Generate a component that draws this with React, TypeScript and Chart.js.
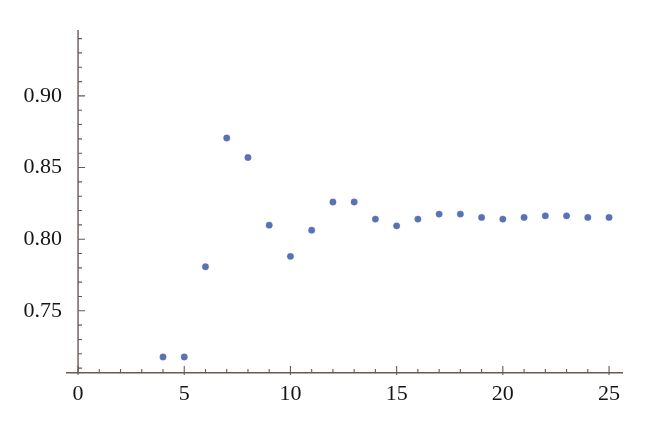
import React, { useEffect, useRef } from "react";
import { Chart, registerables } from "chart.js";

Chart.register(...registerables);

const xValues = [4, 5, 6, 7, 8, 9, 10, 11, 12, 13, 14, 15, 16, 17, 18, 19, 20, 21, 22, 23, 24, 25];
const yValues = [
  0.7178, 0.7178, 0.7808, 0.8706, 0.857, 0.8098, 0.788, 0.8063, 0.8259, 0.826, 0.814,
  0.8093, 0.814, 0.8175, 0.8175, 0.8152, 0.814, 0.8152, 0.8163, 0.8163, 0.8152, 0.8152,
];
const xTickLabels = [0, 5, 10, 15, 20, 25];
const yTickLabels = [0.75, 0.8, 0.85, 0.9];
const xMinorTicks = [1, 2, 3, 4, 6, 7, 8, 9, 11, 12, 13, 14, 16, 17, 18, 19, 21, 22, 23, 24];
const yMinorTicks = [
  0.71, 0.72, 0.73, 0.74, 0.76, 0.77, 0.78, 0.79, 0.81, 0.82, 0.83, 0.84, 0.86, 0.87, 0.88,
  0.89, 0.91, 0.92, 0.93, 0.94,
];

const AXIS_COLOR = "#665a55";
const FONT = "'Liberation Serif', 'DejaVu Serif', serif";

const axisPlugin = {
  id: "mathAxes",
  afterDraw(chart: any) {
    const { ctx, chartArea, scales } = chart;
    const xs = scales.x;
    const ys = scales.y;
    const x0 = xs.getPixelForValue(0);
    const yb = chartArea.bottom;
    ctx.save();
    ctx.strokeStyle = AXIS_COLOR;
    ctx.lineWidth = 1.4;
    ctx.beginPath();
    ctx.moveTo(x0, chartArea.top);
    ctx.lineTo(x0, yb);
    ctx.stroke();
    ctx.lineWidth = 1.1;
    ctx.beginPath();
    for (const v of yTickLabels) {
      const p = ys.getPixelForValue(v);
      ctx.moveTo(x0, p);
      ctx.lineTo(x0 + 7, p);
    }
    for (const v of yMinorTicks) {
      const p = ys.getPixelForValue(v);
      ctx.moveTo(x0, p);
      ctx.lineTo(x0 + 4, p);
    }
    for (const v of xTickLabels) {
      const p = xs.getPixelForValue(v);
      ctx.moveTo(p, yb + 2);
      ctx.lineTo(p, yb - 7);
    }
    for (const v of xMinorTicks) {
      const p = xs.getPixelForValue(v);
      ctx.moveTo(p, yb);
      ctx.lineTo(p, yb - 4);
    }
    ctx.stroke();
    ctx.restore();
  },
};

export default function App() {
  const ref = useRef<HTMLCanvasElement | null>(null);
  useEffect(() => {
    if (!ref.current) return;
    const chart = new Chart(ref.current, {
      type: "scatter",
      data: {
        datasets: [
          {
            data: xValues.map((x, i) => ({ x, y: yValues[i] })),
            backgroundColor: "#5872b4",
            borderColor: "rgba(88,114,180,0.45)",
            borderWidth: 1,
            pointRadius: 3.2,
            pointHoverRadius: 3.2,
          },
        ],
      },
      options: {
        responsive: false,
        animation: false,
        layout: { padding: { left: 0, right: 38, top: 30, bottom: 0 } },
        plugins: { legend: { display: false }, tooltip: { enabled: false } },
        scales: {
          x: {
            type: "linear",
            min: -0.52,
            max: 25.61,
            grid: { display: false },
            border: { display: true, color: AXIS_COLOR, width: 1.4 },
            afterBuildTicks: (scale: any) => {
              scale.ticks = xTickLabels.map((v) => ({ value: v }));
            },
            afterFit: (scale: any) => {
              scale.height = 59;
            },
            ticks: {
              autoSkip: false,
              maxRotation: 0,
              padding: 0,
              color: "#151515",
              font: { family: FONT, size: 22 },
              callback: (v: any) => String(v),
            },
          },
          y: {
            type: "linear",
            min: 0.7066,
            max: 0.946,
            grid: { display: false },
            border: { display: false },
            afterBuildTicks: (scale: any) => {
              scale.ticks = yTickLabels.map((v) => ({ value: v }));
            },
            afterFit: (scale: any) => {
              scale.width = 67;
            },
            ticks: {
              autoSkip: false,
              padding: -3,
              color: "#151515",
              font: { family: FONT, size: 22 },
              callback: (v: any) => Number(v).toFixed(2),
            },
          },
        },
      },
      plugins: [axisPlugin],
    });
    return () => chart.destroy();
  }, []);
  return (
    <div style={{ position: "fixed", left: 0, top: 0, width: 660, height: 432, background: "#fff" }}>
      <canvas ref={ref} width={660} height={432} style={{ display: "block" }} />
    </div>
  );
}
